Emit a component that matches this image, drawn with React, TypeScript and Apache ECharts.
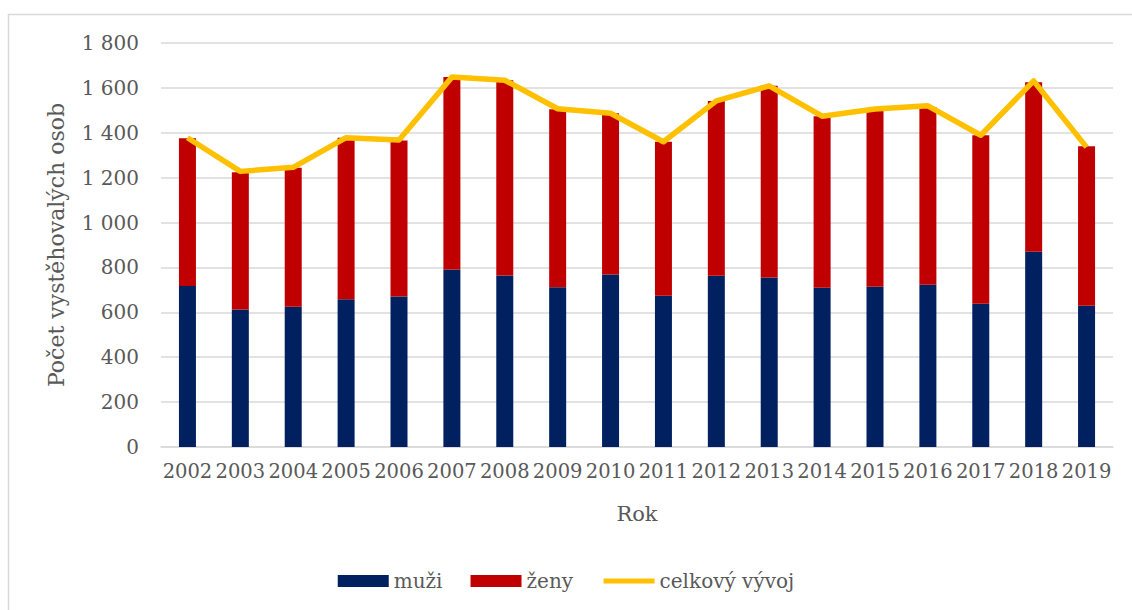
import React, { useEffect, useRef } from "react";
import * as echarts from "echarts";

const years = ["2002","2003","2004","2005","2006","2007","2008","2009","2010","2011","2012","2013","2014","2015","2016","2017","2018","2019"];
const muzi = [717, 613, 625, 658, 671, 791, 764, 712, 769, 674, 763, 755, 709, 714, 723, 638, 870, 629];
const zeny = [659, 611, 619, 720, 695, 857, 870, 793, 718, 686, 779, 854, 765, 787, 792, 751, 755, 711];
const celkem = [1378, 1228, 1246, 1378, 1368, 1648, 1634, 1507, 1487, 1360, 1542, 1609, 1474, 1506, 1520, 1389, 1631, 1336];

const FONT = "DejaVu Serif";
const GREY = "#595959";

export default function App() {
  const ref = useRef<HTMLDivElement>(null);
  useEffect(() => {
    if (!ref.current) return;
    const chart = echarts.init(ref.current, null, { renderer: "svg" });
    chart.setOption({
      animation: false,
      backgroundColor: "#ffffff",
      textStyle: { fontFamily: FONT },
      graphic: [
        {
          type: "rect",
          shape: { x: 8.5, y: 14.5, width: 1160, height: 620 },
          style: { fill: "none", stroke: "#d9d9d9", lineWidth: 1.5 },
          silent: true,
        },
      ],
      grid: { left: 161, right: 19, top: 43, bottom: 163, containLabel: false },
      legend: {
        bottom: 14,
        left: "center",
        itemWidth: 51,
        itemHeight: 12,
        itemGap: 28,
        itemStyle: {},
        textStyle: { fontFamily: FONT, fontSize: 20, color: GREY },
        data: [
          { name: "muži", icon: "rect" },
          { name: "ženy", icon: "rect" },
          { name: "celkový vývoj", itemStyle: { opacity: 0 }, lineStyle: { width: 5, color: "#FFC000" } },
        ],
      },
      xAxis: {
        type: "category",
        data: years,
        name: "Rok",
        nameLocation: "middle",
        nameGap: 56,
        nameTextStyle: { fontFamily: FONT, fontSize: 21, color: GREY },
        axisLine: { show: true, lineStyle: { color: "#d9d9d9", width: 1.5 } },
        axisTick: { show: false },
        axisLabel: { fontFamily: FONT, fontSize: 19.5, color: GREY, margin: 14, interval: 0 },
      },
      yAxis: {
        type: "value",
        min: 0,
        max: 1800,
        interval: 200,
        name: "Počet vystěhovalých osob",
        nameLocation: "middle",
        nameGap: 94,
        nameTextStyle: { fontFamily: FONT, fontSize: 22, color: GREY },
        axisLine: { show: false },
        axisTick: { show: false },
        splitLine: { lineStyle: { color: "#d9d9d9", width: 1.5 } },
        axisLabel: {
          fontFamily: FONT,
          fontSize: 20,
          color: GREY,
          margin: 22,
          formatter: (v: number) => (v >= 1000 ? Math.floor(v / 1000) + " " + String(v % 1000).padStart(3, "0") : String(v)),
        },
      },
      series: [
        {
          name: "muži",
          type: "bar",
          stack: "total",
          barWidth: 17,
          data: muzi,
          itemStyle: { color: "#002060" },
        },
        {
          name: "ženy",
          type: "bar",
          stack: "total",
          barWidth: 17,
          data: zeny,
          itemStyle: { color: "#C00000" },
        },
        {
          name: "celkový vývoj",
          type: "line",
          data: celkem,
          symbol: "none",
          lineStyle: { color: "#FFC000", width: 5.5, join: "round" },
          itemStyle: { color: "#FFC000" },
          z: 5,
        },
      ],
    });
    return () => chart.dispose();
  }, []);
  return <div ref={ref} style={{ width: 1132, height: 610, position: "absolute", left: 0, top: 0 }} />;
}
